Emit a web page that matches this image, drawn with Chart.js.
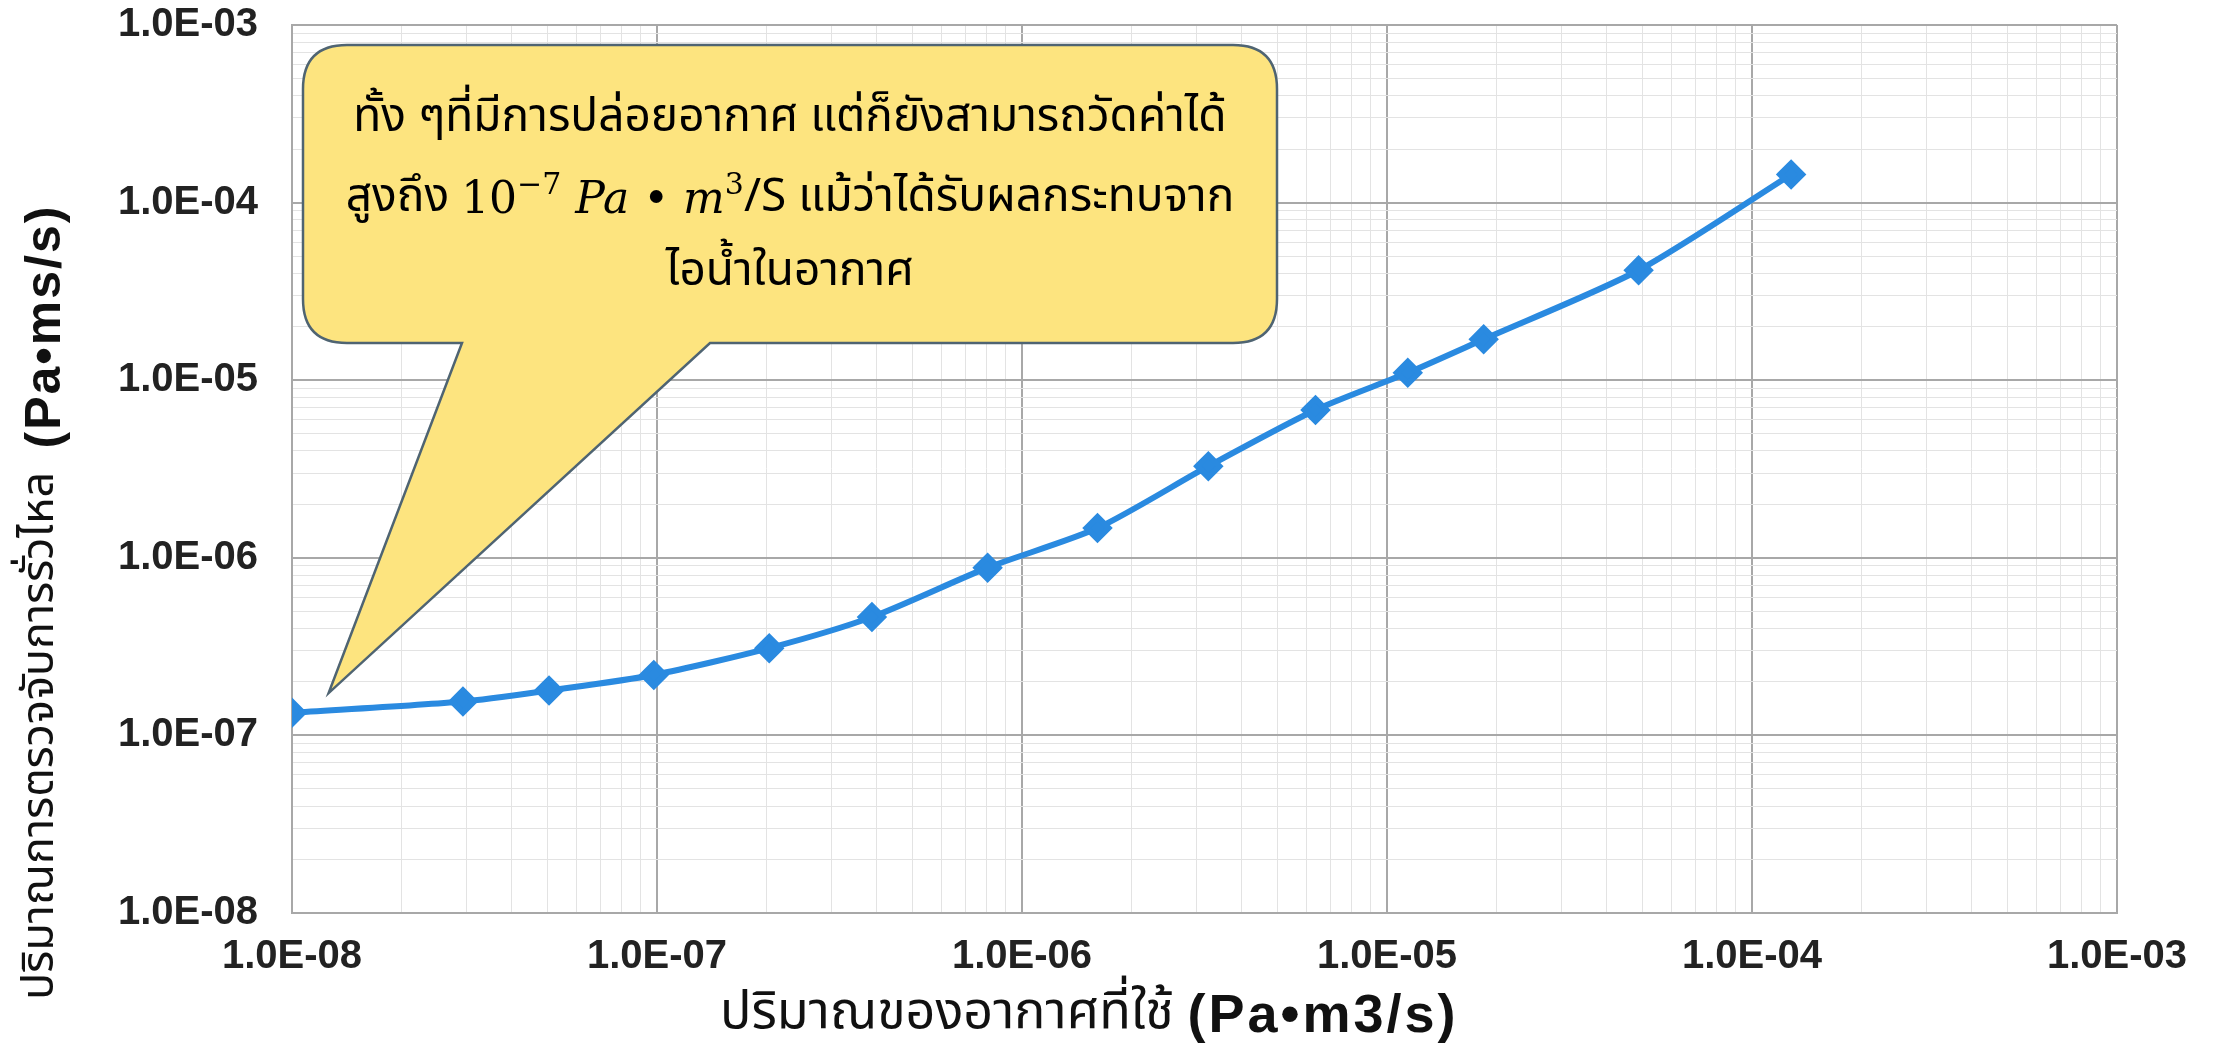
<!DOCTYPE html>
<html>
<head>
<meta charset="utf-8">
<script src="https://cdn.jsdelivr.net/npm/chart.js@4.4.1/dist/chart.umd.min.js"></script>
<style>
  body { margin: 0; background: #fff; }
  canvas { display: block; }
</style>
</head>
<body>
<canvas id="leakChart" width="2213" height="1044"></canvas>
<script>
// values
const airFlow = [1.0e-8, 2.94e-8, 5.06e-8, 9.8e-8, 2.03e-7, 3.88e-7, 8.05e-7, 1.61e-6, 3.24e-6, 6.37e-6, 1.14e-5, 1.84e-5, 4.89e-5, 1.28e-4];
const leakDetected = [1.34e-7, 1.55e-7, 1.79e-7, 2.19e-7, 3.1e-7, 4.64e-7, 8.8e-7, 1.47e-6, 3.28e-6, 6.8e-6, 1.10e-5, 1.70e-5, 4.16e-5, 1.44e-4];

const decadeTicks = [1e-8, 1e-7, 1e-6, 1e-5, 1e-4, 1e-3];
const decadeLabels = ["1.0E-08", "1.0E-07", "1.0E-06", "1.0E-05", "1.0E-04", "1.0E-03"];
const minorSteps = [2, 3, 4, 5, 6, 7, 8, 9];

const xTitleThai = "ปริมาณของอากาศที่ใช้";
const xTitleUnit = "(Pa•m3/s)";
const yTitleThai = "ปริมาณการตรวจจับการรั่วไหล";
const yTitleUnit = "(Pa•ms/s)";

const noteLine1 = "ทั้ง ๆที่มีการปล่อยอากาศ แต่ก็ยังสามารถวัดค่าได้";
const noteLine2a = "สูงถึง ";
const noteLine2b = "/S แม้ว่าได้รับผลกระทบจาก";
const noteLine3 = "ไอน้ำในอากาศ";
// where the callout tail points (data space)
const noteTip = {x: 1.26e-8, y: 1.73e-7};

const thaiFont = "'Noto Sans Thai', 'Noto Sans', 'DejaVu Sans', sans-serif";
const mathFont = "'DejaVu Serif', 'Liberation Serif', serif";
const tickFont = "'Liberation Sans', Arial, sans-serif";

const gridValues = [];
decadeTicks.forEach(function(d, i){
    gridValues.push(d);
    if (i < decadeTicks.length - 1) {
        minorSteps.forEach(function(m){ gridValues.push(d * m); });
    }
});

function decadeIndex(v){
    for (let i = 0; i < decadeTicks.length; i++) {
        if (Math.abs(Math.log10(v) - Math.log10(decadeTicks[i])) < 1e-6) return i;
    }
    return -1;
}

const points = airFlow.map(function(x, i){ return {x: x, y: leakDetected[i]}; });

function gridColor(ctx){
    if (!ctx.tick) return '#e3e3e3';
    return decadeIndex(ctx.tick.value) >= 0 ? '#a8a8a8' : '#e3e3e3';
}
function gridWidth(ctx){
    if (!ctx.tick) return 1;
    return decadeIndex(ctx.tick.value) >= 0 ? 2 : 1;
}

// titles and the yellow callout
const extrasPlugin = {
    id: 'extras',
    afterDraw: function(chart){
        const ctx = chart.ctx;
        const xs = chart.scales.x, ys = chart.scales.y;

        // x title
        ctx.save();
        ctx.fillStyle = '#111';
        ctx.textBaseline = 'middle';
        ctx.textAlign = 'left';
        ctx.font = "52px " + thaiFont;
        const tw = ctx.measureText(xTitleThai + " ").width;
        ctx.fillText(xTitleThai + " ", 720, 1017);
        ctx.font = "bold 54px " + tickFont;
        ctx.letterSpacing = "3px";
        ctx.fillText(xTitleUnit, 720 + tw, 1017);
        ctx.restore();

        // y title
        ctx.save();
        ctx.translate(44, 1000);
        ctx.rotate(-Math.PI / 2);
        ctx.fillStyle = '#111';
        ctx.textBaseline = 'middle';
        ctx.textAlign = 'left';
        ctx.font = "45px " + thaiFont;
        const yw = ctx.measureText(yTitleThai + "  ").width;
        ctx.fillText(yTitleThai + "  ", 0, 0);
        ctx.font = "bold 50px " + tickFont;
        ctx.letterSpacing = "2px";
        ctx.fillText(yTitleUnit, yw, 2);
        ctx.restore();

        // callout box with tail
        const L = 303, R = 1277, T = 45, B = 343, r = 44;
        const tipX = xs.getPixelForValue(noteTip.x), tipY = ys.getPixelForValue(noteTip.y);
        const baseL = 462, baseR = 710;
        ctx.save();
        ctx.beginPath();
        ctx.moveTo(L + r, T);
        ctx.lineTo(R - r, T);
        ctx.quadraticCurveTo(R, T, R, T + r);
        ctx.lineTo(R, B - r);
        ctx.quadraticCurveTo(R, B, R - r, B);
        ctx.lineTo(baseR, B);
        ctx.lineTo(tipX, tipY);
        ctx.lineTo(baseL, B);
        ctx.lineTo(L + r, B);
        ctx.quadraticCurveTo(L, B, L, B - r);
        ctx.lineTo(L, T + r);
        ctx.quadraticCurveTo(L, T, L + r, T);
        ctx.closePath();
        ctx.fillStyle = '#fde47f';
        ctx.fill();
        ctx.lineWidth = 2.5;
        ctx.strokeStyle = '#4f6472';
        ctx.stroke();

        const cx = (L + R) / 2;
        ctx.fillStyle = '#000';
        ctx.textBaseline = 'middle';
        ctx.textAlign = 'center';
        ctx.font = "46px " + thaiFont;
        ctx.fillText(noteLine1, cx, 122);
        ctx.fillText(noteLine3, cx, 276);

        // second line: thai + math + thai
        ctx.textAlign = 'left';
        const parts = [
            {t: noteLine2a, f: "46px " + thaiFont, dy: 0},
            {t: "10", f: "44px " + mathFont, dy: 0},
            {t: "−7", f: "30px " + mathFont, dy: -16},
            {t: " Pa", f: "italic 44px " + mathFont, dy: 0},
            {t: " • ", f: "44px " + mathFont, dy: 0},
            {t: "m", f: "italic 44px " + mathFont, dy: 0},
            {t: "3", f: "30px " + mathFont, dy: -16},
            {t: noteLine2b, f: "46px " + thaiFont, dy: 0}
        ];
        let total = 0;
        parts.forEach(function(p){ ctx.font = p.f; p.w = ctx.measureText(p.t).width; total += p.w; });
        let px = cx - total / 2;
        parts.forEach(function(p){
            ctx.font = p.f;
            ctx.fillText(p.t, px, 202 + p.dy);
            px += p.w;
        });
        ctx.restore();
    }
};

new Chart("leakChart", {
    type: "line",
    data: {
        datasets: [{
            data: points,
            borderColor: "#2a8ae0",
            backgroundColor: "#2a8ae0",
            borderWidth: 6,
            pointStyle: 'rectRot',
            pointRadius: 11,
            pointHoverRadius: 11,
            tension: 0.25,
            fill: false
        }]
    },
    options: {
        responsive: false,
        animation: false,
        devicePixelRatio: 1,
        layout: {padding: {top: 25, right: 96, left: 0, bottom: 0}},
        plugins: {
            legend: {display: false},
            tooltip: {enabled: false}
        },
        scales: {
            x: {
                type: 'logarithmic',
                min: 1e-8,
                max: 1e-3,
                afterBuildTicks: function(s){ s.ticks = gridValues.map(function(v){ return {value: v}; }); },
                afterFit: function(s){ s.height = 131; s.paddingLeft = 0; s.paddingRight = 0; },
                grid: {color: gridColor, lineWidth: gridWidth, drawTicks: false},
                border: {color: '#a8a8a8', width: 2},
                ticks: {
                    autoSkip: false,
                    maxRotation: 0,
                    padding: 20,
                    color: '#222',
                    font: {family: tickFont, size: 40, weight: 'bold'},
                    callback: function(v){ const i = decadeIndex(v); return i >= 0 ? decadeLabels[i] : ''; }
                }
            },
            y: {
                type: 'logarithmic',
                min: 1e-8,
                max: 1e-3,
                afterBuildTicks: function(s){ s.ticks = gridValues.map(function(v){ return {value: v}; }); },
                afterFit: function(s){ s.width = 292; s.paddingTop = 0; s.paddingBottom = 0; },
                grid: {color: gridColor, lineWidth: gridWidth, drawTicks: false},
                border: {color: '#a8a8a8', width: 2},
                ticks: {
                    autoSkip: false,
                    padding: 34,
                    color: '#222',
                    font: {family: tickFont, size: 40, weight: 'bold'},
                    callback: function(v){ const i = decadeIndex(v); return i >= 0 ? decadeLabels[i] : ''; }
                }
            }
        }
    },
    plugins: [extrasPlugin]
});
</script>
</body>
</html>
